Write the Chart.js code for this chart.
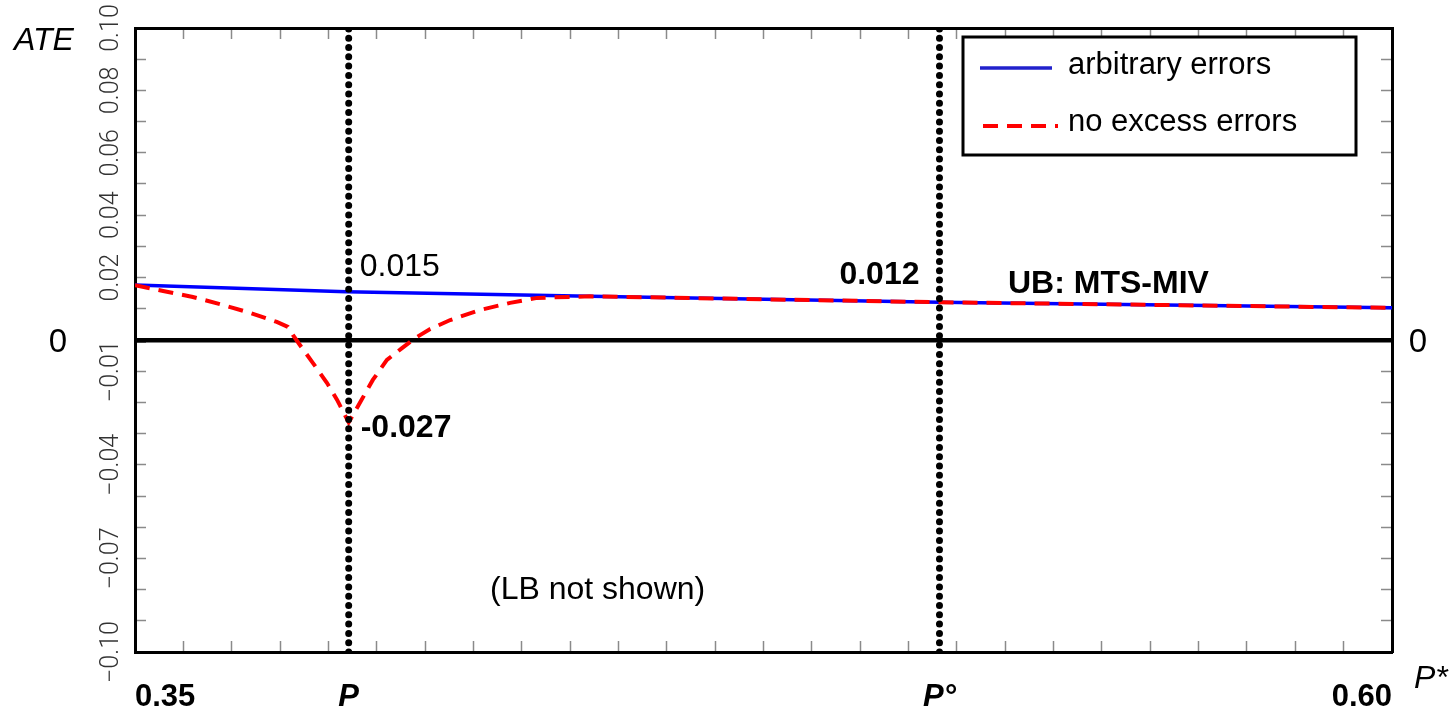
<!DOCTYPE html>
<html><head><meta charset="utf-8">
<script src="https://cdn.jsdelivr.net/npm/chart.js@4.4.1/dist/chart.umd.min.js"></script>
<style>html,body{margin:0;padding:0;background:#fff;overflow:hidden}#wrap{width:1453px;height:714px;position:relative}</style>
</head><body><div id="wrap"><canvas id="c"></canvas></div>
<script>
// ---- data ----
const X_MIN = 0.35, X_MAX = 0.60;
const Y_MIN = -0.10, Y_MAX = 0.10;
const P_STAR = 0.3925;   // P
const P_O = 0.51;        // P°
const arbitraryX = [0.35, 0.392, 0.4405, 0.51, 0.555, 0.60];
const arbitraryY = [0.0176, 0.0155, 0.0140, 0.0121, 0.0112, 0.0103];
const noExcessX = [0.35, 0.3556, 0.3615, 0.3669, 0.3729, 0.3782, 0.3804, 0.3814, 0.3828, 0.3854, 0.3882, 0.3902, 0.3925,
                   0.3947, 0.3973, 0.4001, 0.4031, 0.4057, 0.4087, 0.4127, 0.4186, 0.4246, 0.4300, 0.4405, 0.51, 0.555, 0.60];
const noExcessY = [0.0176, 0.0157, 0.0138, 0.0115, 0.0087, 0.0058, 0.0042, 0.0016, -0.0016, -0.0074, -0.0138, -0.0192, -0.0264,
                   -0.0202, -0.0128, -0.0064, -0.0026, 0.0006, 0.0035, 0.0064, 0.0096, 0.0119, 0.0135, 0.0140, 0.0121, 0.0112, 0.0103];
const xTickValues = [0.35, P_STAR, P_O, 0.60];
const xTickLabels = ['0.35', 'P', 'P°', '0.60'];
const yTickValues = [0.10, 0.08, 0.06, 0.04, 0.02, -0.01, -0.04, -0.07, -0.10];
const yTickLabels = ['0.10', '0.08', '0.06', '0.04', '0.02', '−0.01', '−0.04', '−0.07', '−0.10'];
const X_MINOR_DIVISIONS = 26;
const Y_MINOR_STEPS = 10;   // per half axis (0.01 each)

// ---- helpers ----
const near = (a, b) => Math.abs(a - b) < 1e-9;
const xMinor = [];
for (let i = 0; i <= X_MINOR_DIVISIONS; i++) xMinor.push(X_MIN + (X_MAX - X_MIN) * i / X_MINOR_DIVISIONS);
const yMinor = [];
for (let i = -Y_MINOR_STEPS; i <= Y_MINOR_STEPS; i++) yMinor.push(i / 100);
const isXEnd = v => near(v, X_MIN) || near(v, X_MAX);
const isYEnd = v => near(v, Y_MIN) || near(v, Y_MAX);
const isPLabel = v => near(v, P_STAR) || near(v, P_O);
const TICK_GRAY = '#8a8a8a';
const FONT = '"Liberation Sans", Arial, sans-serif';

const pts = (xs, ys) => xs.map((v, i) => ({x: v, y: ys[i]}));

const overlay = {
  id: 'overlay',
  afterDraw(chart) {
    const {ctx, scales: {x, y}} = chart;
    ctx.save();
    ctx.fillStyle = '#000';
    ctx.textBaseline = 'alphabetic';
    const t = (s, px, py, font, align) => { ctx.font = font; ctx.textAlign = align || 'left'; ctx.fillText(s, px, py); };
    const y0 = y.getPixelForValue(0);
    t('ATE', 14, 50, 'italic 32px ' + FONT);
    t('P*', 1414, 688, 'italic 32px ' + FONT);
    t('0', 58, y0 + 12, '33px ' + FONT, 'center');
    t('0', 1418, y0 + 12, '33px ' + FONT, 'center');
    const xp = x.getPixelForValue(P_STAR), xo = x.getPixelForValue(P_O);
    t('0.015', xp + 11, 276, '32px ' + FONT);
    t('-0.027', xp + 12, 437, 'bold 32px ' + FONT);
    t('0.012', xo - 20, 284, 'bold 32px ' + FONT, 'right');
    t('UB: MTS-MIV', 1008, 293, 'bold 32px ' + FONT);
    t('(LB not shown)', 490, 599, '32px ' + FONT);
    // legend box
    ctx.fillStyle = '#fff';
    ctx.fillRect(963, 37, 393, 118);
    ctx.strokeStyle = '#000';
    ctx.lineWidth = 3;
    ctx.strokeRect(963, 37, 393, 118);
    const ds = chart.data.datasets;
    ctx.lineCap = 'butt';
    ctx.strokeStyle = '#2222cc';
    ctx.lineWidth = ds[3].borderWidth;
    ctx.setLineDash([]);
    ctx.beginPath(); ctx.moveTo(980, 68); ctx.lineTo(1052, 68); ctx.stroke();
    ctx.strokeStyle = ds[2].borderColor;
    ctx.lineWidth = ds[2].borderWidth;
    ctx.setLineDash(ds[2].borderDash);
    ctx.beginPath(); ctx.moveTo(983, 126); ctx.lineTo(1058, 126); ctx.stroke();
    ctx.setLineDash([]);
    ctx.fillStyle = '#000';
    t(ds[3].label, 1068, 74, '31px ' + FONT);
    t(ds[2].label, 1068, 131, '31px ' + FONT);
    ctx.restore();
  }
};

new Chart(document.getElementById('c'), {
  type: 'line',
  data: {
    datasets: [
      {label: 'P', data: pts([P_STAR, P_STAR], [Y_MIN, Y_MAX]), borderColor: '#000', borderWidth: 7,
       borderDash: [0, 9.3], borderCapStyle: 'round', pointRadius: 0, tension: 0},
      {label: 'P°', data: pts([P_O, P_O], [Y_MIN, Y_MAX]), borderColor: '#000', borderWidth: 7,
       borderDash: [0, 9.3], borderCapStyle: 'round', pointRadius: 0, tension: 0},
      {label: 'no excess errors', data: pts(noExcessX, noExcessY), borderColor: '#ff0000', borderWidth: 4,
       borderDash: [15, 9], pointRadius: 0, tension: 0},
      {label: 'arbitrary errors', data: pts(arbitraryX, arbitraryY), borderColor: '#0000ff', borderWidth: 3.5,
       pointRadius: 0, tension: 0}
    ]
  },
  options: {
    responsive: true, maintainAspectRatio: false, animation: false,
    layout: {padding: 0},
    plugins: {legend: {display: false}, tooltip: {enabled: false}},
    events: [],
    scales: {
      x: {
        type: 'linear', position: 'bottom', min: X_MIN, max: X_MAX,
        afterBuildTicks: s => {
          const v = xMinor.concat([P_STAR, P_O]).sort((a, b) => a - b);
          s.ticks = v.map(value => ({value}));
        },
        afterFit: s => { s.height = 62; },
        ticks: {
          autoSkip: false, maxRotation: 0, minRotation: 0, align: 'inner', padding: 38, color: '#000',
          font: ctx => ({family: FONT, size: 31, weight: 'bold', style: (ctx.tick && isPLabel(ctx.tick.value)) ? 'italic' : 'normal'}),
          callback: v => { const i = xTickValues.findIndex(w => near(w, v)); return i >= 0 ? xTickLabels[i] : ''; }
        },
        grid: {drawOnChartArea: false, tickLength: -11, tickWidth: 1.5,
               tickColor: ctx => (isXEnd(ctx.tick.value) || isPLabel(ctx.tick.value)) ? 'rgba(0,0,0,0)' : TICK_GRAY},
        border: {display: true, color: '#000', width: 3}
      },
      x2: {
        type: 'linear', position: 'top', min: X_MIN, max: X_MAX,
        afterBuildTicks: s => { s.ticks = xMinor.map(value => ({value})); },
        afterFit: s => { s.height = 28; },
        ticks: {display: false},
        grid: {drawOnChartArea: false, tickLength: -11, tickWidth: 1.5,
               tickColor: ctx => isXEnd(ctx.tick.value) ? 'rgba(0,0,0,0)' : TICK_GRAY},
        border: {display: true, color: '#000', width: 3}
      },
      y: {
        type: 'linear', position: 'left', min: Y_MIN, max: Y_MAX,
        afterBuildTicks: s => { s.ticks = yMinor.map(value => ({value})); },
        afterFit: s => { s.width = 135; },
        ticks: {
          autoSkip: false, minRotation: 90, maxRotation: 90, crossAlign: 'center', padding: 3,
          color: '#333', font: {family: 'Roboto, "DejaVu Sans", sans-serif', size: 25, weight: '300'},
          callback: v => { const i = yTickValues.findIndex(w => near(w, v)); return i >= 0 ? yTickLabels[i] : ''; }
        },
        grid: {
          drawOnChartArea: true, tickLength: -11,
          color: ctx => ctx.tick.value === 0 ? '#000' : 'rgba(0,0,0,0)',
          lineWidth: ctx => ctx.tick.value === 0 ? 4.5 : 1,
          tickColor: ctx => ctx.tick.value === 0 ? '#000' : (isYEnd(ctx.tick.value) ? 'rgba(0,0,0,0)' : TICK_GRAY),
          tickWidth: ctx => ctx.tick.value === 0 ? 4.5 : 1.5
        },
        border: {display: true, color: '#000', width: 3}
      },
      y2: {
        type: 'linear', position: 'right', min: Y_MIN, max: Y_MAX,
        afterBuildTicks: s => { s.ticks = yMinor.map(value => ({value})); },
        afterFit: s => { s.width = 61; },
        ticks: {display: false},
        grid: {drawOnChartArea: false, tickLength: -11, tickWidth: 1.5,
               tickColor: ctx => (ctx.tick.value === 0 || isYEnd(ctx.tick.value)) ? 'rgba(0,0,0,0)' : TICK_GRAY},
        border: {display: true, color: '#000', width: 3}
      }
    }
  },
  plugins: [overlay]
});
</script></body></html>
